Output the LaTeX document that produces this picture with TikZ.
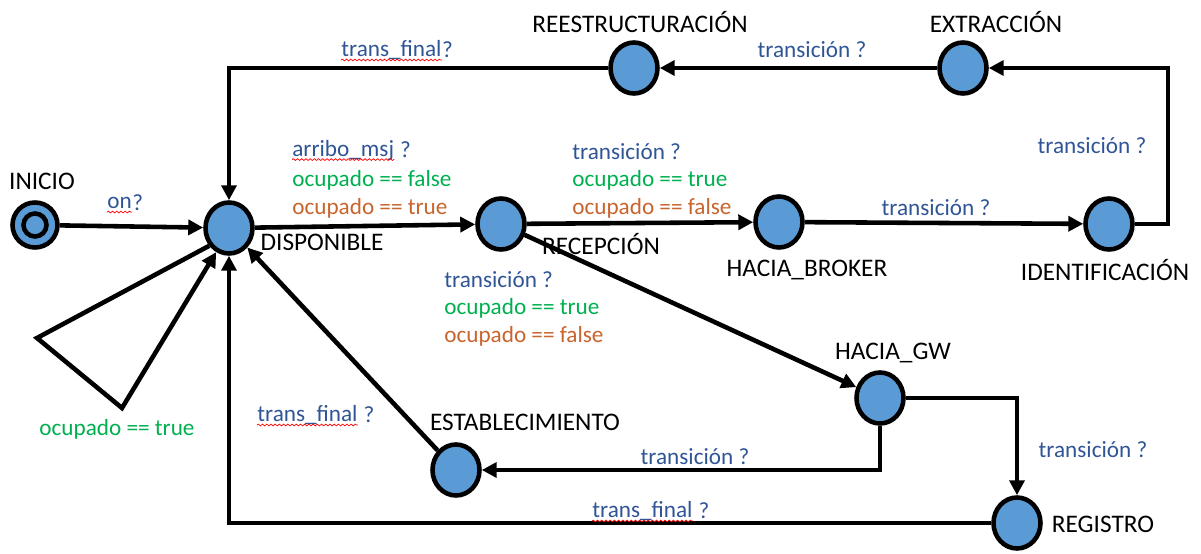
\documentclass[tikz,border=0pt]{standalone}
\usepackage{fontspec}
\setmainfont{Carlito}
\usetikzlibrary{arrows.meta,shapes.geometric,decorations.pathmorphing}
\definecolor{relleno}{RGB}{91,155,213}
\definecolor{azul}{RGB}{47,85,151}
\definecolor{verde}{RGB}{0,176,80}
\definecolor{naranja}{RGB}{200,100,45}
\begin{document}
\begin{tikzpicture}[x=0.02cm,y=-0.02cm,
    estado/.style={ellipse,draw,fill=relleno,line width=2.6pt,minimum width=0.94cm,minimum height=1.02cm,inner sep=0pt},
    nombre/.style={font=\fontsize{14.4}{16}\selectfont,inner sep=0pt},
    etq/.style={font=\fontsize{13.2}{15}\selectfont,inner sep=0pt},
    flecha/.style={line width=2.6pt,-{Triangle[length=8.5pt,width=8.5pt]}},
    subr/.style={red,line width=0.4pt,decorate,decoration={snake,amplitude=0.5pt,segment length=2.4pt}}]
    \useasboundingbox (0,0) rectangle (1201,554);
    % estados
    \node[circle,draw,fill=relleno,line width=2.6pt,minimum size=0.9cm] (ini) at (35,225) {};
    \node[circle,draw,fill=relleno,line width=2.6pt,minimum size=0.46cm] (ini2) at (ini) {};
    \node[estado] (disp) at (229,228) {};
    \node[estado] (rec) at (501,224) {};
    \node[estado] (broker) at (779,222) {};
    \node[estado] (ident) at (1109,224) {};
    \node[estado] (extr) at (963,68) {};
    \node[estado] (reest) at (634,68) {};
    \node[estado] (gw) at (880,398) {};
    \node[estado] (estab) at (456,470) {};
    \node[estado] (reg) at (1017,523) {};
    % nombres
    \node[nombre] (nini) at (42,181) {INICIO};
    \node[nombre] (ndisp) at (322,242) {DISPONIBLE};
    \node[nombre] (nrec) at (601,244) {RECEPCIÓN};
    \node[nombre] (nbroker) at (807,270) {HACIA\_BROKER};
    \node[nombre] (nident) at (1105,270) {IDENTIFICACIÓN};
    \node[nombre] (nextr) at (996,22) {EXTRACCIÓN};
    \node[nombre] (nreest) at (640,22) {REESTRUCTURACIÓN};
    \node[nombre] (ngw) at (893,353) {HACIA\_GW};
    \node[nombre] (nestab) at (525,422) {ESTABLECIMIENTO};
    \node[nombre] (nreg) at (1103,524) {REGISTRO};
    % transiciones
    \draw[flecha] (ini) -- (disp);
    \draw[flecha] (disp) -- (rec);
    \draw[flecha] (rec) -- (broker);
    \draw[flecha] (broker) -- (ident);
    \draw[flecha] (ident.east) -- ++(33,0) |- (extr.east);
    \draw[flecha] (extr) -- (reest);
    \draw[flecha] (reest.west) -| (disp.north);
    \draw[flecha] (rec) -- (gw);
    \draw[flecha] (gw.east) -| (reg.north);
    \draw[flecha] (gw.south) |- (estab.east);
    \draw[flecha] (estab) -- (disp);
    \draw[flecha] (reg.west) -| (disp.south);
    \draw[flecha] (disp.222) -- (37,338) -- (122,408) -- (disp.242);
    % etiquetas
    \node[etq,azul,anchor=west] (on) at (107,203) {on};
    \node[etq,azul,anchor=west] at (on.east) {?};
    \draw[subr] ([yshift=-2pt]on.base west) -- ([yshift=-2pt]on.base east);
    \node[etq,azul,anchor=west] (tf1) at (341,50) {trans\_final};
    \node[etq,azul,anchor=west] at (tf1.east) {?};
    \draw[subr] ([yshift=-2pt]tf1.base west) -- ([yshift=-2pt]tf1.base east);
    \node[etq,azul] (t1) at (812,50) {transición ?};
    \node[etq,azul] (t2) at (1092,146) {transición ?};
    \node[etq,azul] (t3) at (936,208) {transición ?};
    \node[etq,azul] (t4) at (1093,450) {transición ?};
    \node[etq,azul] (t5) at (695,457) {transición ?};
    \node[etq,azul,anchor=west] (am) at (292,150) {arribo\_msj};
    \node[etq,azul,anchor=west] at ([xshift=3pt]am.east) {?};
    \draw[subr] ([yshift=-2pt]am.base west) -- ([yshift=-2pt]am.base east);
    \node[etq,verde,anchor=west] (g1) at (292,180) {ocupado == false};
    \node[etq,naranja,anchor=west] (o1) at (292,208) {ocupado == true};
    \node[etq,azul,anchor=west] (t6) at (572,152) {transición ?};
    \node[etq,verde,anchor=west] (g2) at (572,180) {ocupado == true};
    \node[etq,naranja,anchor=west] (o2) at (572,208) {ocupado == false};
    \node[etq,azul,anchor=west] (t7) at (444,280) {transición ?};
    \node[etq,verde,anchor=west] (g3) at (444,308) {ocupado == true};
    \node[etq,naranja,anchor=west] (o3) at (444,336) {ocupado == false};
    \node[etq,verde] (g4) at (117,429) {ocupado == true};
    \node[etq,azul,anchor=west] (tf2) at (257,415) {trans\_final};
    \node[etq,azul,anchor=west] at ([xshift=3pt]tf2.east) {?};
    \draw[subr] ([yshift=-2pt]tf2.base west) -- ([yshift=-2pt]tf2.base east);
    \node[etq,azul,anchor=west] (tf3) at (592,511) {trans\_final};
    \node[etq,azul,anchor=west] at ([xshift=3pt]tf3.east) {?};
    \draw[subr] ([yshift=-2pt]tf3.base west) -- ([yshift=-2pt]tf3.base east);
\end{tikzpicture}
\end{document}
